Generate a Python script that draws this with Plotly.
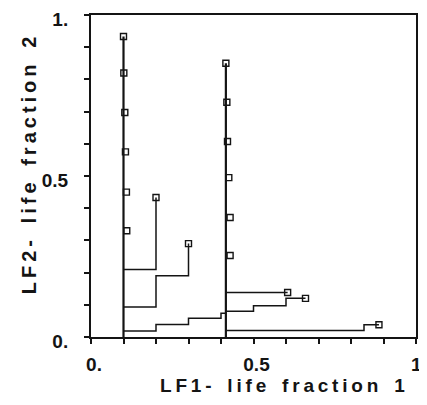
import plotly.graph_objects as go

# ---- data ----
# left group: vertical line at LF1 = 0.1 with markers
left_line_x = [0.1, 0.1]
left_line_y = [0.0, 0.933]
left_mk_x = [0.1, 0.101, 0.104, 0.106, 0.109, 0.11]
left_mk_y = [0.933, 0.82, 0.697, 0.575, 0.45, 0.33]

# right group: vertical line at LF1 = 0.415 with markers
right_line_x = [0.415, 0.415]
right_line_y = [0.0, 0.85]
right_mk_x = [0.415, 0.418, 0.42, 0.424, 0.428, 0.428]
right_mk_y = [0.85, 0.729, 0.607, 0.495, 0.371, 0.253]

# step paths (end point carries a marker where the reference shows one)
stepA_x = [0.1, 0.2, 0.2]
stepA_y = [0.21, 0.21, 0.433]
stepB_x = [0.1, 0.2, 0.2, 0.3, 0.3]
stepB_y = [0.093, 0.093, 0.19, 0.19, 0.29]
stepC_x = [0.1, 0.2, 0.2, 0.3, 0.3, 0.4, 0.4, 0.415]
stepC_y = [0.019, 0.019, 0.039, 0.039, 0.058, 0.058, 0.074, 0.074]
stepD_x = [0.415, 0.605]
stepD_y = [0.138, 0.138]
stepE_x = [0.415, 0.5, 0.5, 0.6, 0.6, 0.66]
stepE_y = [0.08, 0.08, 0.097, 0.097, 0.12, 0.12]
stepF_x = [0.415, 0.84, 0.84, 0.886]
stepF_y = [0.02, 0.02, 0.038, 0.038]

tick_vals = [0.0, 0.1, 0.2, 0.3, 0.4, 0.5, 0.6, 0.7, 0.8, 0.9, 1.0]
tick_text = ["0.", "", "", "", "", "0.5", "", "", "", "", "1."]

x_title = "LF1- life fraction 1"
y_title = "LF2- life fraction 2"

INK = "#141414"
FONT = "Liberation Sans, Arial, sans-serif"


def spaced(s):
    thin = "\u2009"
    nb = "\u00a0"
    words = s.split(" ")
    return (nb + " " + nb).join(thin.join(list(w)) for w in words)


fig = go.Figure()

for xs, ys in [(left_line_x, left_line_y), (right_line_x, right_line_y)]:
    fig.add_trace(go.Scatter(x=xs, y=ys, mode="lines",
                             line=dict(color=INK, width=2.2), hoverinfo="skip"))

for xs, ys in [(stepA_x, stepA_y), (stepB_x, stepB_y), (stepC_x, stepC_y),
               (stepD_x, stepD_y), (stepE_x, stepE_y), (stepF_x, stepF_y)]:
    fig.add_trace(go.Scatter(x=xs, y=ys, mode="lines",
                             line=dict(color=INK, width=1.5), hoverinfo="skip"))

# end markers of step paths
end_x = [stepA_x[-1], stepB_x[-1], stepD_x[-1], stepE_x[-1], stepF_x[-1]]
end_y = [stepA_y[-1], stepB_y[-1], stepD_y[-1], stepE_y[-1], stepF_y[-1]]

for xs, ys in [(left_mk_x, left_mk_y), (right_mk_x, right_mk_y), (end_x, end_y)]:
    fig.add_trace(go.Scatter(x=xs, y=ys, mode="markers",
                             marker=dict(symbol="square-open", size=6, color=INK,
                                         line=dict(width=1.4, color=INK)),
                             hoverinfo="skip"))

axis_common = dict(
    range=[0, 1], tickmode="array", tickvals=tick_vals, ticktext=tick_text,
    ticks="outside", ticklen=5, tickwidth=1.5, tickcolor=INK,
    showline=True, linewidth=2, linecolor=INK, mirror=True,
    showgrid=False, zeroline=False, automargin=False,
    ticklabeloverflow="allow",
    tickfont=dict(family=FONT, size=19, color=INK, weight="bold"),
)

# page body adds an 8px margin, so the figure is sized to fit the window
fig.update_layout(
    width=419, height=397,
    margin=dict(l=83, r=11, t=7, b=68),
    paper_bgcolor="white", plot_bgcolor="white",
    showlegend=False,
    xaxis=dict(**axis_common, ticklabelstandoff=4, ticklabelshift=3),
    yaxis=dict(**axis_common, ticklabelstandoff=12, ticklabelshift=4),
    annotations=[
        dict(text=spaced(x_title), xref="paper", yref="paper", x=0.59, y=-0.152,
             xanchor="center", yanchor="middle", showarrow=False,
             font=dict(family=FONT, size=19, color=INK, weight="bold")),
        dict(text=spaced(y_title), xref="paper", yref="paper", x=-0.19, y=0.534,
             xanchor="center", yanchor="middle", showarrow=False, textangle=-90,
             font=dict(family=FONT, size=20, color=INK, weight="bold")),
    ],
)

fig.write_html("out.html")
